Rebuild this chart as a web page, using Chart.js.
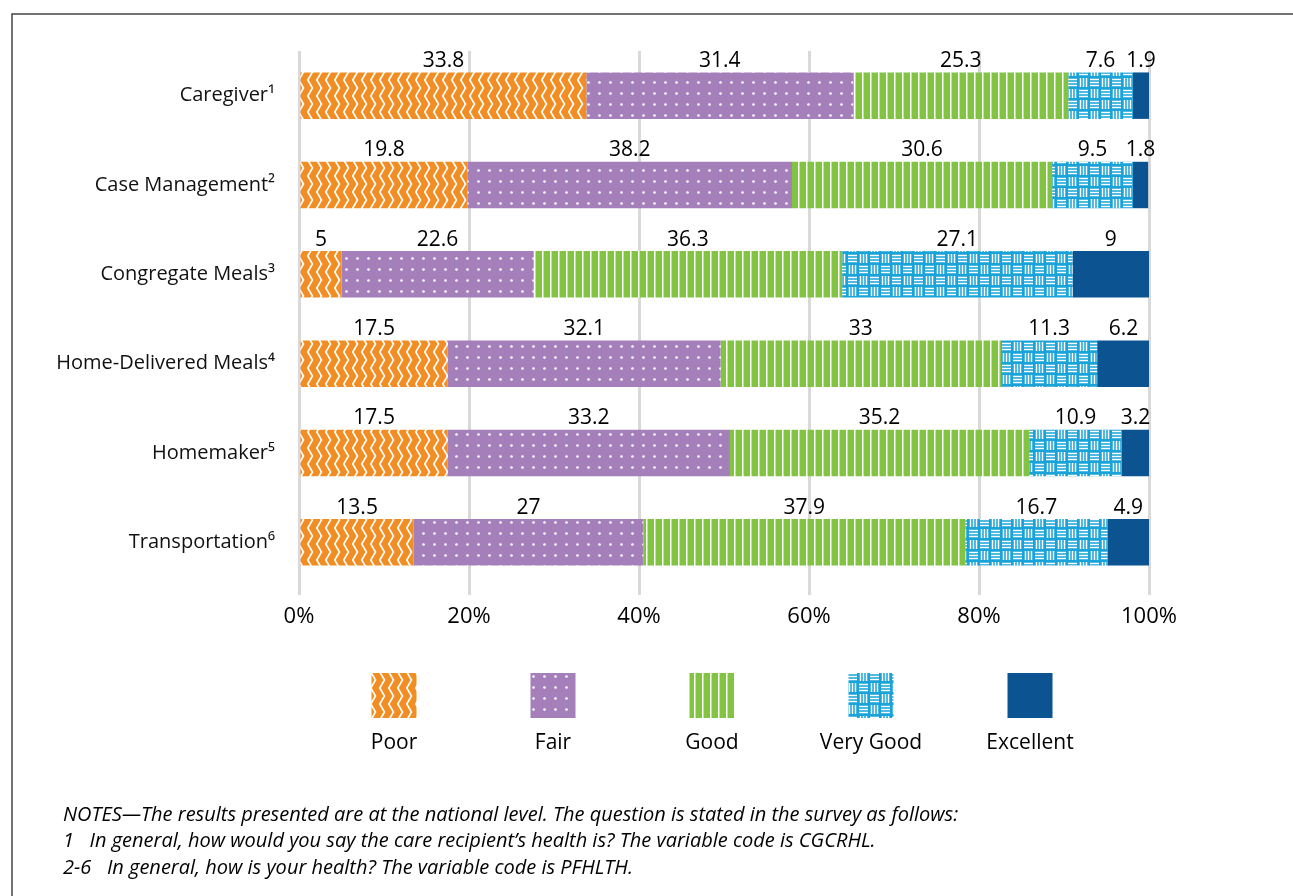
<!DOCTYPE html>
<html>
<head>
<meta charset="utf-8">
<script src="https://cdn.jsdelivr.net/npm/chart.js@4/dist/chart.umd.min.js"></script>
<style>
  html, body { margin: 0; padding: 0; background: #fff; }
  #wrap { width: 1293px; height: 896px; position: relative; }
</style>
</head>
<body>
<div id="wrap"><canvas id="c" width="1293" height="896"></canvas></div>
<script>
const categories = ['Caregiver¹', 'Case Management²', 'Congregate Meals³', 'Home-Delivered Meals⁴', 'Homemaker⁵', 'Transportation⁶'];
const seriesNames = ['Poor', 'Fair', 'Good', 'Very Good', 'Excellent'];
const poor      = [33.8, 19.8, 5,    17.5, 17.5, 13.5];
const fair      = [31.4, 38.2, 22.6, 32.1, 33.2, 27];
const good      = [25.3, 30.6, 36.3, 33,   35.2, 37.9];
const veryGood  = [7.6,  9.5,  27.1, 11.3, 10.9, 16.7];
const excellent = [1.9,  1.8,  9,    6.2,  3.2,  4.9];
const xTicks = [0, 20, 40, 60, 80, 100];
const notes = [
  'NOTES\u2014The results presented are at the national level. The question is stated in the survey as follows:',
  '1\u00a0\u00a0 In general, how would you say the care recipient\u2019s health is? The variable code is CGCRHL.',
  '2-6\u00a0\u00a0 In general, how is your health? The variable code is PFHLTH.'
];

const FONT = '"Open Sans", "Noto Sans", sans-serif';

function makeTile(w, h, bg, draw) {
  const c = document.createElement('canvas');
  c.width = w; c.height = h;
  const g = c.getContext('2d');
  g.fillStyle = bg; g.fillRect(0, 0, w, h);
  g.strokeStyle = '#fff'; g.fillStyle = '#fff';
  draw(g);
  return g.createPattern(c, 'repeat');
}
const ctxMain = document.getElementById('c').getContext('2d');
const patPoor = makeTile(9, 16, '#F18D23', g => {
  g.lineWidth = 1.7;
  g.beginPath(); g.moveTo(1.5, -0.5); g.lineTo(6.5, 8); g.lineTo(1.5, 16.5); g.stroke();
});
const patFair = makeTile(11, 11, '#A47FBA', g => {
  g.beginPath(); g.arc(5.5, 5.5, 1.3, 0, Math.PI * 2); g.fill();
});
const patGood = makeTile(8, 8, '#82C341', g => {
  g.fillRect(6, 0, 1.5, 8);
});
const patVG = makeTile(22, 22, '#1AA3D8', g => {
  g.lineWidth = 1.5;
  const horiz = (ox, oy) => { for (const d of [2.5, 5.5, 8.5]) { g.beginPath(); g.moveTo(ox + 1, oy + d); g.lineTo(ox + 10, oy + d); g.stroke(); } };
  const vert = (ox, oy) => { for (const d of [2.5, 5.5, 8.5]) { g.beginPath(); g.moveTo(ox + d, oy + 1); g.lineTo(ox + d, oy + 10); g.stroke(); } };
  horiz(0, 0); vert(11, 0); vert(0, 11); horiz(11, 11);
});
const fills = [patPoor, patFair, patGood, patVG, '#0B5491'];
const seriesData = [poor, fair, good, veryGood, excellent];

const datasets = seriesNames.map((n, i) => ({
  label: n,
  data: seriesData[i],
  backgroundColor: fills[i],
  borderWidth: 0,
  barPercentage: 0.52,
  categoryPercentage: 1.0
}));

const decor = {
  id: 'decor',
  afterDatasetsDraw(chart) {
    const ctx = chart.ctx;
    ctx.save();
    ctx.fillStyle = '#000';
    ctx.font = '21px ' + FONT;
    ctx.textAlign = 'center';
    ctx.textBaseline = 'bottom';
    chart.data.datasets.forEach((ds, di) => {
      const meta = chart.getDatasetMeta(di);
      meta.data.forEach((bar, i) => {
        const v = ds.data[i];
        const cx = (bar.x + bar.base) / 2;
        const top = bar.y - bar.height / 2;
        ctx.fillText(String(v), cx, top - 1);
      });
    });
    ctx.restore();
  },
  afterDraw(chart) {
    const ctx = chart.ctx;
    ctx.save();
    // frame
    ctx.strokeStyle = '#444';
    ctx.lineWidth = 1.5;
    ctx.beginPath();
    ctx.moveTo(1293, 14); ctx.lineTo(12, 14); ctx.lineTo(12, 896);
    ctx.stroke();
    // legend
    const centers = [394, 553, 712, 871, 1030];
    ctx.font = '21px ' + FONT;
    ctx.textAlign = 'center';
    ctx.textBaseline = 'middle';
    seriesNames.forEach((n, i) => {
      ctx.fillStyle = fills[i];
      ctx.fillRect(centers[i] - 22.5, 673, 45, 45);
      ctx.fillStyle = '#000';
      ctx.fillText(n, centers[i], 743);
    });
    // notes
    ctx.font = 'italic 20px ' + FONT;
    ctx.textAlign = 'left';
    ctx.fillStyle = '#000';
    notes.forEach((t, i) => ctx.fillText(t, 63, 815 + i * 26.5));
    ctx.restore();
  }
};

new Chart(ctxMain, {
  type: 'bar',
  data: { labels: categories, datasets },
  options: {
    indexAxis: 'y',
    responsive: false,
    animation: false,
    events: [],
    layout: { padding: { left: 20, right: 144, top: 51, bottom: 260 } },
    plugins: { legend: { display: false }, tooltip: { enabled: false } },
    scales: {
      x: {
        stacked: true,
        min: 0, max: 100,
        afterBuildTicks: s => { s.ticks = xTicks.map(v => ({ value: v })); },
        afterFit: s => { s.height = 49; },
        grid: { color: '#d9d9d9', lineWidth: 3, drawTicks: true, tickLength: 8, tickColor: '#d9d9d9' },
        border: { display: false },
        ticks: { color: '#000', font: { size: 22, family: FONT }, padding: 9, callback: v => v + '%' }
      },
      y: {
        stacked: true,
        afterFit: s => { s.width = 279; },
        grid: { display: false },
        border: { display: false },
        ticks: { color: '#111', font: { size: 20, family: FONT }, padding: 16 }
      }
    }
  },
  plugins: [decor]
});
</script>
</body>
</html>
